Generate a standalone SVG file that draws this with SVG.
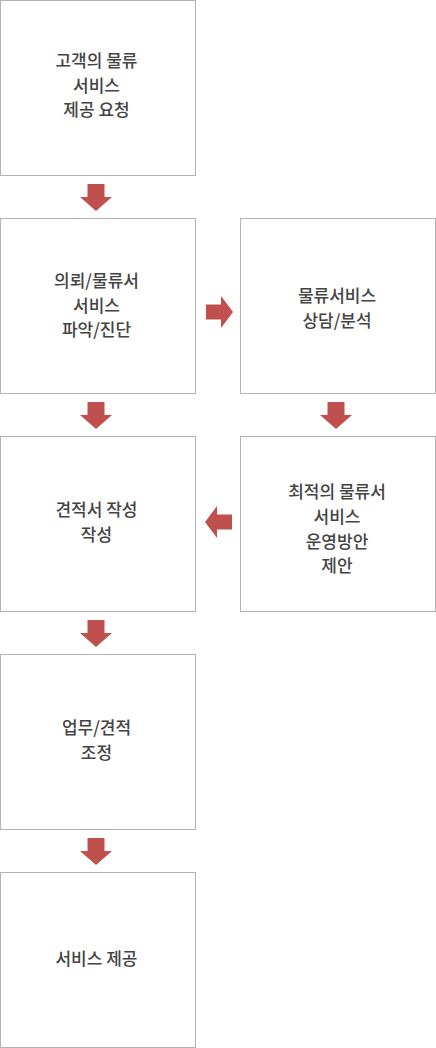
<svg xmlns="http://www.w3.org/2000/svg" width="436" height="1048" viewBox="0 0 436 1048">
<style>
.box{fill:#fff;stroke:#b3b3b3;stroke-width:1}
.t{font-family:"Noto Sans CJK KR","Noto Sans",sans-serif;font-size:17px;font-weight:500;fill:#444;text-anchor:middle}
.arr{fill:#c0504d}
</style>
<rect width="436" height="1048" fill="#fff"/>
<g id="n1"><rect class="box" x="0.5" y="0.5" width="195" height="175"/>
<text class="t" x="96.5"><tspan x="96.5" y="67">고객의 물류</tspan><tspan x="96.5" y="91.5">서비스</tspan><tspan x="96.5" y="116">제공 요청</tspan></text></g>
<g id="n2"><rect class="box" x="0.5" y="218.5" width="195" height="175"/>
<text class="t"><tspan x="96.5" y="287">의뢰/물류서</tspan><tspan x="96.5" y="311.5">서비스</tspan><tspan x="96.5" y="336">파악/진단</tspan></text></g>
<g id="n3"><rect class="box" x="240.5" y="218.5" width="195" height="175"/>
<text class="t"><tspan x="337" y="302">물류서비스</tspan><tspan x="337" y="326.5">상담/분석</tspan></text></g>
<g id="n4"><rect class="box" x="0.5" y="436.5" width="195" height="175"/>
<text class="t"><tspan x="96.5" y="516">견적서 작성</tspan><tspan x="96.5" y="540.5">작성</tspan></text></g>
<g id="n5"><rect class="box" x="240.5" y="436.5" width="195" height="175"/>
<text class="t"><tspan x="337" y="498">최적의 물류서</tspan><tspan x="337" y="522.8">서비스</tspan><tspan x="337" y="547.6">운영방안</tspan><tspan x="337" y="572.4">제안</tspan></text></g>
<g id="n6"><rect class="box" x="0.5" y="654.5" width="195" height="175"/>
<text class="t"><tspan x="96.5" y="734">업무/견적</tspan><tspan x="96.5" y="758.5">조정</tspan></text></g>
<g id="n7"><rect class="box" x="0.5" y="872.5" width="195" height="175"/>
<text class="t"><tspan x="96.5" y="965">서비스 제공</tspan></text></g>
<g id="connectors">
<polygon class="arr" points="87.5,184 104.5,184 104.5,197 112,197 96,211 80,197 87.5,197"/>
<polygon class="arr" points="87.5,402 104.5,402 104.5,415 112,415 96,429 80,415 87.5,415"/>
<polygon class="arr" points="87.5,620 104.5,620 104.5,633 112,633 96,647 80,633 87.5,633"/>
<polygon class="arr" points="87.5,838 104.5,838 104.5,851 112,851 96,865 80,851 87.5,851"/>
<polygon class="arr" points="327.5,402 344.5,402 344.5,415 352,415 336,429 320,415 327.5,415"/>
<polygon class="arr" points="206,304.5 221,304.5 221,296 233,312 221,328 221,319.5 206,319.5"/>
<polygon class="arr" points="232,514.5 217,514.5 217,506 205,522 217,538 217,529.5 232,529.5"/>
</g>
</svg>
